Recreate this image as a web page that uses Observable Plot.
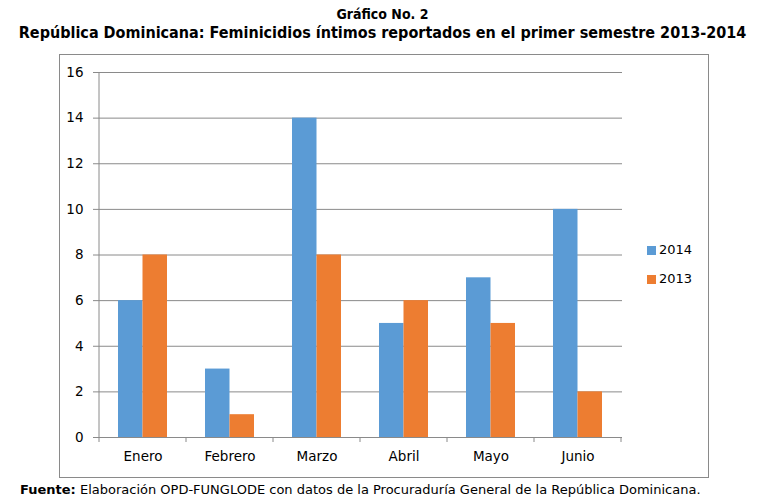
<!DOCTYPE html>
<html>
<head>
<meta charset="utf-8">
<script src="https://cdn.jsdelivr.net/npm/d3@7"></script>
<script src="https://cdn.jsdelivr.net/npm/@observablehq/plot@0.6"></script>
<style>
  html, body { margin: 0; padding: 0; background: #fff; }
  body { width: 765px; height: 501px; position: relative; overflow: hidden; font-family: "DejaVu Sans", Verdana, sans-serif; }
  .t { position: absolute; left: 0; width: 765px; text-align: center; font-family: "DejaVu Sans Condensed", "DejaVu Sans", sans-serif; font-weight: bold; color: #000; white-space: nowrap; }
  #box { position: absolute; left: 59px; top: 54px; width: 648px; height: 422px; border: 1px solid #8a8a8a; }
  #chart { position: absolute; left: 0; top: 0; }
  .lg { position: absolute; font-size: 13px; color: #000; }
  .sw { position: absolute; width: 9px; height: 9px; }
  #fuente { position: absolute; left: 20px; top: 482px; font-size: 13px; white-space: nowrap; color: #000; }
</style>
</head>
<body>
<div class="t" style="top:6px;font-size:14px;">Gráfico No. 2</div>
<div class="t" style="top:23px;font-size:16px;">República Dominicana: Feminicidios íntimos reportados en el primer semestre 2013-2014</div>
<div id="box"></div>
<div id="chart"></div>
<div class="sw" style="left:647px;top:246px;background:#5B9BD5"></div>
<div class="lg" style="left:659px;top:242px;">2014</div>
<div class="sw" style="left:647px;top:275px;background:#ED7D31"></div>
<div class="lg" style="left:659px;top:271px;">2013</div>
<div id="fuente"><b>Fuente:</b> Elaboración OPD-FUNGLODE con datos de la Procuraduría General de la República Dominicana.</div>
<script>
const months = ["Enero", "Febrero", "Marzo", "Abril", "Mayo", "Junio"];
const values2014 = [6, 3, 14, 5, 7, 10];
const values2013 = [8, 1, 8, 6, 5, 2];
const yTicks = [0, 2, 4, 6, 8, 10, 12, 14, 16];

const d2014 = months.map((m, i) => ({month: m, value: values2014[i]}));
const d2013 = months.map((m, i) => ({month: m, value: values2013[i]}));

const gray = "#8a8a8a";

const chart = Plot.plot({
  width: 765,
  height: 501,
  marginTop: 72,
  marginRight: 143,
  marginBottom: 64,
  marginLeft: 98,
  style: {fontFamily: "'DejaVu Sans', Verdana, sans-serif", color: "#000", background: "transparent"},
  x: {domain: months, padding: 0, label: null},
  y: {domain: [0, 16], label: null},
  marks: [
    Plot.gridY(yTicks, {stroke: gray, strokeOpacity: 1}),
    Plot.barY(d2014, {x: "month", y: "value", fill: "#5B9BD5", insetLeft: 19, insetRight: 43.5}),
    Plot.barY(d2013, {x: "month", y: "value", fill: "#ED7D31", insetLeft: 43.5, insetRight: 19}),
    Plot.axisY(yTicks, {tickSize: 5, tickPadding: 10, stroke: gray, fill: "#000", fontSize: 13.5, label: null}),
    Plot.axisX({tickSize: 0, tickPadding: 14, fill: "#000", fontSize: 13.5, label: null}),
    (index, {x, y}) => {
      const bw = typeof x.bandwidth === "function" ? x.bandwidth() : x.bandwidth;
      const edges = months.map(m => x(m)).concat([x(months[months.length - 1]) + bw]);
      const g = d3.create("svg:g").attr("stroke", gray).attr("stroke-width", 1);
      const [y0, y1] = [y(0), y(16)];
      g.append("line").attr("x1", edges[0]).attr("x2", edges[0]).attr("y1", y0).attr("y2", y1);
      for (const e of edges) {
        g.append("line").attr("x1", e).attr("x2", e).attr("y1", y0).attr("y2", y0 + 5);
      }
      return g.node();
    }
  ]
});
document.getElementById("chart").appendChild(chart);
</script>
</body>
</html>
